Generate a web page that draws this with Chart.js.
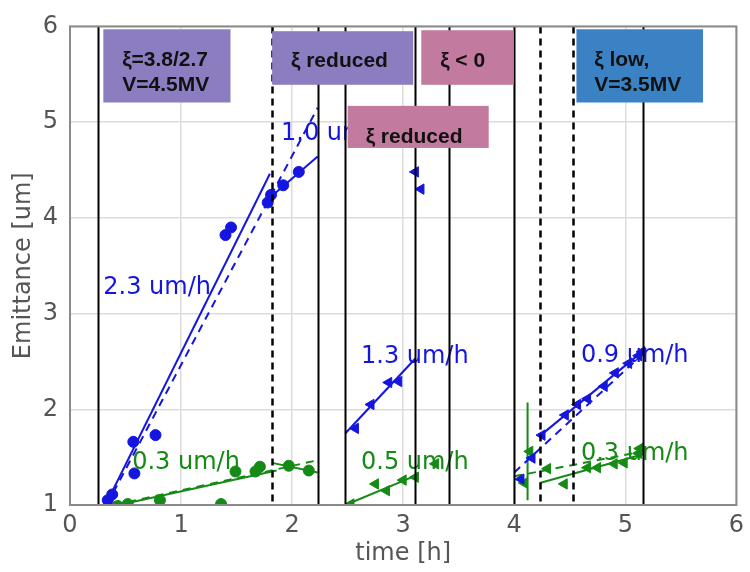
<!DOCTYPE html>
<html>
<head>
<meta charset="utf-8">
<script src="https://cdn.jsdelivr.net/npm/chart.js@4.4.0/dist/chart.umd.min.js"></script>
<style>
  html, body { margin: 0; padding: 0; background: #ffffff; }
  #grafico { display: block; }
</style>
</head>
<body>
<canvas id="grafico" width="750" height="572"></canvas>
<script>
// Datos (tiempo en horas, emitancia en um)

// Bloque 1: circulos
var blueCircleX = [0.34, 0.38, 0.57, 0.58, 0.77, 1.40, 1.45, 1.78, 1.81, 1.92, 2.06];
var blueCircleY = [1.05, 1.11, 1.66, 1.33, 1.73, 3.82, 3.90, 4.16, 4.24, 4.34, 4.48];
var greenCircleX = [0.43, 0.52, 0.81, 1.36, 1.49, 1.67, 1.71, 1.97, 2.15];
var greenCircleY = [0.99, 1.01, 1.05, 1.01, 1.35, 1.35, 1.40, 1.41, 1.36];

// Bloque 2 y 3: triangulos
var blueTriX = [2.57, 2.71, 2.87, 2.96, 3.11, 3.16];
var blueTriY = [1.80, 2.05, 2.28, 2.29, 4.48, 4.30];
var greenTriX = [2.53, 2.75, 2.85, 3.00, 3.11, 3.29];
var greenTriY = [1.01, 1.22, 1.15, 1.26, 1.29, 1.43];

// Bloque 4
var blueLateX = [4.06, 4.16, 4.25, 4.46, 4.57, 4.66, 4.81, 4.91, 5.03, 5.12, 5.15];
var blueLateY = [1.27, 1.49, 1.73, 1.94, 2.05, 2.11, 2.24, 2.38, 2.48, 2.56, 2.60];
var greenLateX = [4.09, 4.14, 4.30, 4.45, 4.66, 4.75, 4.90, 4.99, 5.12, 5.13];
var greenLateY = [1.23, 1.56, 1.38, 1.22, 1.39, 1.39, 1.43, 1.44, 1.54, 1.59];

// Rectas de ajuste: [x0, x1] y [y0, y1]
var blueFit1X = [0.32, 1.80], blueFit1Y = [1.00, 4.46];
var blueDash1X = [0.33, 2.23], blueDash1Y = [1.00, 5.15];
var blueFit2X = [1.82, 2.23], blueFit2Y = [4.23, 4.64];
var greenFit1X = [0.36, 1.86], greenFit1Y = [0.98, 1.36];
var greenDash1X = [0.40, 2.20], greenDash1Y = [1.00, 1.46];
var greenFit2X = [1.82, 2.23], greenFit2Y = [1.44, 1.34];
var blueFit3X = [2.48, 3.11], blueFit3Y = [1.75, 2.53];
var greenFit3X = [2.48, 3.14], greenFit3Y = [1.00, 1.32];
var blueFit4X = [4.24, 5.16], blueFit4Y = [1.73, 2.61];
var blueDash4X = [4.00, 5.16], blueDash4Y = [1.34, 2.58];
var greenFit4X = [4.23, 5.16], greenFit4Y = [1.23, 1.53];
var greenDash4X = [4.00, 5.16], greenDash4Y = [1.30, 1.56];
var greenErrX = [4.12, 4.12], greenErrY = [1.05, 2.07];

// Lineas verticales (cambios de condiciones)
var solidMarks = [0.25, 2.23, 2.48, 3.11, 3.41, 4.00, 5.16];
var dashedMarks = [1.82, 4.23, 4.53];

// Ticks de los ejes
var xTicks = [0, 1, 2, 3, 4, 5, 6];
var yTicks = [1, 2, 3, 4, 5, 6];

var BLUE = '#1515e0';
var GREEN = '#158a15';

// Convierte dos arreglos en puntos {x, y}
function toPoints(xs, ys) {
    var pts = [];
    for (var i = 0; i < xs.length; i++) {
        pts.push({ x: xs[i], y: ys[i] });
    }
    return pts;
}

function markers(xs, ys, color, style, rot, r) {
    return {
        data: toPoints(xs, ys),
        showLine: false,
        pointStyle: style,
        rotation: rot,
        pointRadius: r,
        backgroundColor: color,
        borderColor: color,
        borderWidth: 1,
        order: 1
    };
}

function fitLine(xs, ys, color, dash) {
    return {
        data: toPoints(xs, ys),
        showLine: true,
        pointRadius: 0,
        borderColor: color,
        borderWidth: 2,
        borderDash: dash ? [8, 6] : [],
        fill: false,
        order: 2
    };
}

// Textos de pendientes y cuadros de condiciones
var rateNotes = [
    { t: '2.3 um/h', x: 0.30, y: 3.27, c: BLUE },
    { t: '1.0 um/h', x: 1.90, y: 4.88, c: BLUE },
    { t: '1.3 um/h', x: 2.62, y: 2.55, c: BLUE },
    { t: '0.9 um/h', x: 4.60, y: 2.56, c: BLUE },
    { t: '0.3 um/h', x: 0.56, y: 1.44, c: GREEN },
    { t: '0.5 um/h', x: 2.62, y: 1.44, c: GREEN },
    { t: '0.3 um/h', x: 4.60, y: 1.54, c: GREEN }
];

var boxes = [
    { lines: ['ξ=3.8/2.7', 'V=4.5MV'], x0: 0.30, x1: 1.445, y0: 5.97, y1: 5.205, tx: 0.47, ty: [5.643, 5.388], c: '#8c7dc0' },
    { lines: ['ξ reduced'], x0: 1.82, x1: 3.09, y0: 5.95, y1: 5.39, tx: 1.99, ty: [5.633], c: '#8c7dc0' },
    { lines: ['ξ < 0'], x0: 3.163, x1: 3.996, y0: 5.96, y1: 5.39, tx: 3.333, ty: [5.633], c: '#c27a9e' },
    { lines: ['ξ reduced'], x0: 2.50, x1: 3.77, y0: 5.17, y1: 4.73, tx: 2.662, ty: [4.847], c: '#c27a9e' },
    { lines: ['ξ low,', 'V=3.5MV'], x0: 4.56, x1: 5.70, y0: 5.97, y1: 5.205, tx: 4.72, ty: [5.643, 5.388], c: '#3b82c4' }
];

// Plugin: textos, lineas verticales, marco y cuadros
var overlayPlugin = {
    id: 'overlay',
    afterDatasetsDraw: function (chart) {
        var ctx = chart.ctx;
        var xs = chart.scales.x, ys = chart.scales.y;
        var area = chart.chartArea;

        ctx.save();
        ctx.font = '24px "DejaVu Sans"';
        ctx.textBaseline = 'middle';
        ctx.textAlign = 'left';
        rateNotes.forEach(function (n) {
            ctx.fillStyle = n.c;
            ctx.fillText(n.t, xs.getPixelForValue(n.x), ys.getPixelForValue(n.y));
        });

        ctx.strokeStyle = '#000000';
        ctx.lineWidth = 2;
        solidMarks.forEach(function (v) {
            var px = Math.round(xs.getPixelForValue(v)) + 0.5;
            ctx.beginPath();
            ctx.setLineDash([]);
            ctx.moveTo(px, area.top);
            ctx.lineTo(px, area.bottom);
            ctx.stroke();
        });
        ctx.lineWidth = 2.5;
        dashedMarks.forEach(function (v) {
            var px = Math.round(xs.getPixelForValue(v)) + 0.5;
            ctx.beginPath();
            ctx.setLineDash([7, 5]);
            ctx.moveTo(px, area.top);
            ctx.lineTo(px, area.bottom);
            ctx.stroke();
        });
        ctx.setLineDash([]);

        // marco del grafico
        ctx.strokeStyle = '#8a8a8a';
        ctx.lineWidth = 2;
        ctx.strokeRect(area.left, area.top, area.right - area.left, area.bottom - area.top);

        // cuadros de condiciones
        ctx.font = 'bold 21px "Liberation Sans"';
        boxes.forEach(function (b) {
            var l = xs.getPixelForValue(b.x0), r = xs.getPixelForValue(b.x1);
            var t = ys.getPixelForValue(b.y0), bt = ys.getPixelForValue(b.y1);
            ctx.fillStyle = b.c;
            ctx.fillRect(l, t, r - l, bt - t);
            ctx.fillStyle = '#111111';
            for (var i = 0; i < b.lines.length; i++) {
                ctx.fillText(b.lines[i], xs.getPixelForValue(b.tx), ys.getPixelForValue(b.ty[i]));
            }
        });
        ctx.restore();
    }
};

var datasets = [
    markers(blueCircleX, blueCircleY, BLUE, 'circle', 0, 5.5),
    markers(greenCircleX, greenCircleY, GREEN, 'circle', 0, 5.5),
    markers(blueTriX, blueTriY, BLUE, 'triangle', -90, 6),
    markers(greenTriX, greenTriY, GREEN, 'triangle', -90, 6),
    markers(blueLateX, blueLateY, BLUE, 'triangle', -90, 6),
    markers(greenLateX, greenLateY, GREEN, 'triangle', -90, 6),
    fitLine(blueFit1X, blueFit1Y, BLUE, false),
    fitLine(blueDash1X, blueDash1Y, BLUE, true),
    fitLine(blueFit2X, blueFit2Y, BLUE, false),
    fitLine(greenFit1X, greenFit1Y, GREEN, false),
    fitLine(greenDash1X, greenDash1Y, GREEN, true),
    fitLine(greenFit2X, greenFit2Y, GREEN, false),
    fitLine(blueFit3X, blueFit3Y, BLUE, false),
    fitLine(greenFit3X, greenFit3Y, GREEN, false),
    fitLine(blueFit4X, blueFit4Y, BLUE, false),
    fitLine(blueDash4X, blueDash4Y, BLUE, true),
    fitLine(greenFit4X, greenFit4Y, GREEN, false),
    fitLine(greenDash4X, greenDash4Y, GREEN, true),
    fitLine(greenErrX, greenErrY, GREEN, false)
];

var tickFont = { family: '"DejaVu Sans"', size: 24 };

new Chart(document.getElementById('grafico'), {
    type: 'scatter',
    data: { datasets: datasets },
    options: {
        responsive: false,
        animation: false,
        layout: { padding: { top: 15, right: 10, left: 0, bottom: 0 } },
        plugins: { legend: { display: false }, tooltip: { enabled: false } },
        scales: {
            x: {
                type: 'linear',
                min: 0,
                max: 6,
                afterBuildTicks: function (scale) {
                    scale.ticks = xTicks.map(function (v) { return { value: v }; });
                },
                afterFit: function (scale) { scale.height = 67; },
                ticks: { color: '#555555', font: tickFont, padding: 6, maxRotation: 0 },
                grid: { color: '#dcdcdc', lineWidth: 1.5, drawTicks: false },
                border: { display: false },
                title: { display: true, text: 'time [h]', color: '#555555', font: tickFont, padding: { top: 0, bottom: 4 } }
            },
            y: {
                type: 'linear',
                min: 1,
                max: 6,
                afterBuildTicks: function (scale) {
                    scale.ticks = yTicks.map(function (v) { return { value: v }; });
                },
                afterFit: function (scale) { scale.width = 70; },
                ticks: { color: '#555555', font: tickFont, padding: 12 },
                grid: { color: '#dcdcdc', lineWidth: 1.5, drawTicks: false },
                border: { display: false },
                title: { display: true, text: 'Emittance [um]', color: '#555555', font: tickFont, padding: { top: 9, bottom: 0 } }
            }
        }
    },
    plugins: [overlayPlugin]
});
</script>
</body>
</html>
